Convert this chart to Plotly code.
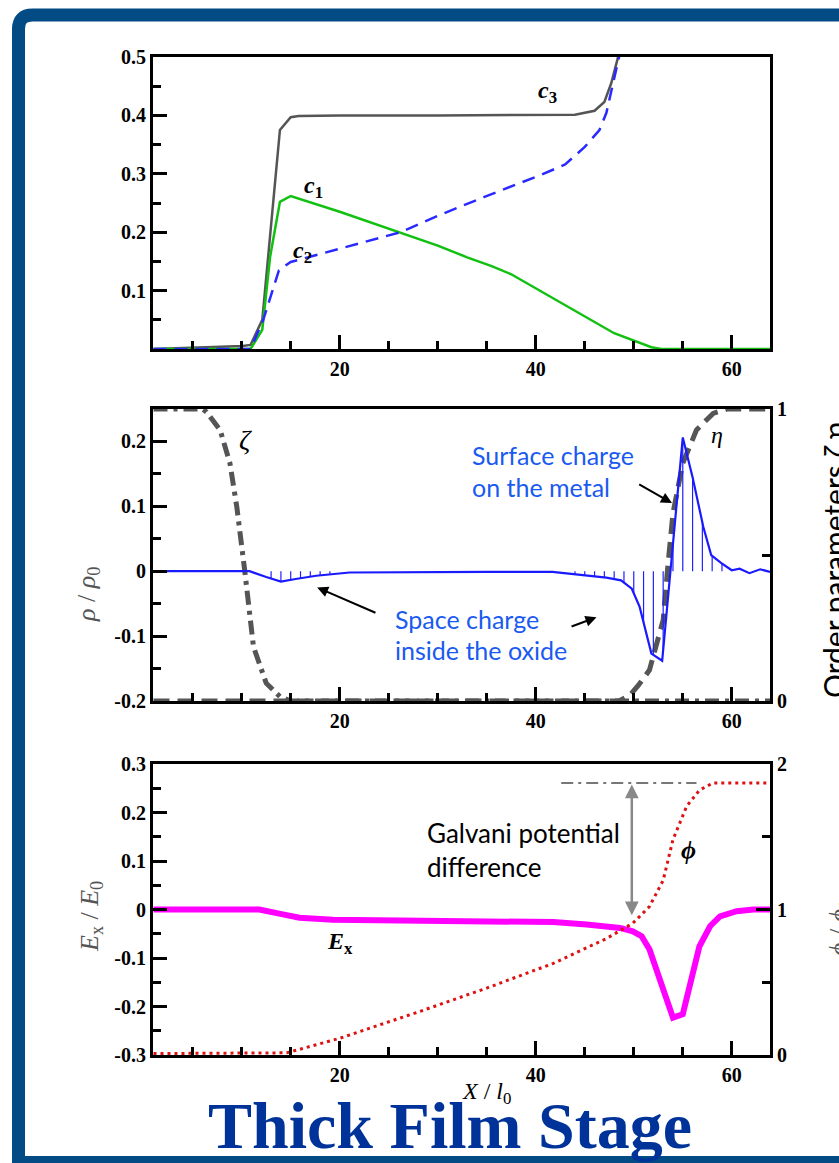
import numpy as np
import plotly.graph_objects as go

W, H = 839, 1163

# ---------------- Panel 1: concentrations ----------------
c3_x = [1, 10.1, 10.9, 12.1, 13.9, 15.0, 15.8, 20, 30, 40, 44.0, 46.0, 47.0, 47.7, 48.0, 48.4, 49.0]
c3_y = [0, 0.005, 0.007, 0.05, 0.375, 0.397, 0.399, 0.4, 0.4, 0.4, 0.401, 0.408, 0.423, 0.455, 0.473, 0.5, 0.56]

c1_x = [1, 10.9, 12.1, 12.9, 13.9, 15.0, 20, 24.2, 26.2, 30, 33.0, 35.5, 37.5, 39.8, 43.9, 48.0, 51.8, 52.8, 64]
c1_y = [0, 0, 0.033, 0.158, 0.252, 0.262, 0.235, 0.211, 0.2, 0.177, 0.157, 0.142, 0.128, 0.106, 0.067, 0.027, 0.003, 0, 0]

c2_x = [1, 10.9, 12.2, 13.1, 13.8, 15.0, 17.0, 20, 24.2, 26.2, 30, 34.7, 40.5, 43.0, 45.0, 46.5, 47.2, 47.7, 48.2, 48.5, 49.0]
c2_y = [0, 0, 0.05, 0.096, 0.135, 0.149, 0.158, 0.171, 0.19, 0.2, 0.228, 0.26, 0.298, 0.316, 0.346, 0.375, 0.404, 0.443, 0.478, 0.5, 0.56]

# ---------------- Panel 2: charge density and order parameters ----------------
rho_x = [1, 10.8, 12.5, 14.0, 15.5, 17.6, 21.0, 28, 35, 41.7, 45.2, 47.2, 48.7, 49.8, 50.6,
         51.8, 52.9, 55.0, 56.0, 57.1, 57.9, 58.9, 60.0, 60.8, 61.8, 62.9, 63.9]
rho_y = [0, 0, -0.009, -0.016, -0.012, -0.007, -0.002, -0.001, -0.001, -0.001, -0.006, -0.01, -0.014, -0.027, -0.055,
         -0.127, -0.138, 0.206, 0.145, 0.068, 0.025, 0.013, 0.0015, 0.004, -0.003, 0.003, -0.001]

zeta_x = [1, 6.0, 6.4, 7.8, 8.8, 9.5, 10.3, 10.8, 11.2, 12.5, 13.9, 15.0, 64]
zeta_y = [1, 1, 0.99, 0.928, 0.814, 0.665, 0.449, 0.30, 0.186, 0.061, 0.015, 0, 0]

eta_x = [1, 48.5, 49.6, 50.5, 51.6, 53.0, 53.5, 54.0, 55.0, 56.4, 58.1, 59.5, 64]
eta_y = [0, 0, 0.02, 0.055, 0.106, 0.277, 0.47, 0.643, 0.814, 0.928, 0.985, 1, 1]

# grid nodes where the space charge is hatched
hatch_nodes = list(range(13, 20)) + list(range(44, 60))

# ---------------- Panel 3: field and potential ----------------
ex_x = [1, 11.8, 14.2, 15.9, 19.3, 28.2, 41.8, 45.2, 48.6, 49.9, 50.8, 51.6, 52.7, 53.5, 54.0,
        55.0, 55.7, 56.7, 57.8, 58.8, 60.5, 62.2, 63.9]
ex_y = [0, 0, -0.010, -0.017, -0.021, -0.024, -0.026, -0.031, -0.038, -0.045, -0.055, -0.082, -0.144, -0.192, -0.223,
        -0.216, -0.158, -0.076, -0.034, -0.014, -0.0035, 0, 0]

phi_x = [1, 13, 14.6, 20.0, 28.2, 35.0, 41.8, 47.2, 49.9, 51.6, 53.0, 54.0, 55.4, 56.7, 58.1, 60, 62.2, 63.9]
phi_y = [0.01, 0.01, 0.015, 0.115, 0.30, 0.46, 0.63, 0.80, 0.905, 1.02, 1.20, 1.48, 1.71, 1.82, 1.87, 1.87, 1.87, 1.87]

# ---------------- tick labels ----------------
p1_ticks = [0.1, 0.2, 0.3, 0.4, 0.5]
p1_text = ["0.1", "0.2", "0.3", "0.4", "0.5"]
p2_ticks = [-0.2, -0.1, 0, 0.1, 0.2]
p2_text = ["-0.2", "-0.1", "0", "0.1", "0.2"]
p2r_ticks = [0, 1]
p2r_text = ["0", "1"]
p3_ticks = [-0.3, -0.2, -0.1, 0, 0.1, 0.2, 0.3]
p3_text = ["-0.3", "-0.2", "-0.1", "0", "0.1", "0.2", "0.3"]
p3r_ticks = [0, 1, 2]
p3r_text = ["0", "1", "2"]

SERIF = "Liberation Serif"
SANS = "Lato"
BLUE_TXT = "#1a5af0"


def px(x):
    return x / W


def py(y):
    return 1 - y / H


XDOM = [px(153), px(770)]
XR = [0.95, 63.9]

fig = go.Figure()

# panel 1
fig.add_trace(go.Scatter(x=c3_x, y=c3_y, mode="lines", line=dict(color="#555555", width=2.5),
                         xaxis="x", yaxis="y", name="c3"))
fig.add_trace(go.Scatter(x=c1_x, y=c1_y, mode="lines", line=dict(color="#11c011", width=2.5),
                         xaxis="x", yaxis="y", name="c1"))
fig.add_trace(go.Scatter(x=c2_x, y=c2_y, mode="lines", line=dict(color="#2a2aff", width=2.5, dash="13px,8px"),
                         xaxis="x", yaxis="y", name="c2"))

# panel 2: order parameters (base axis y2, right side)
fig.add_trace(go.Scatter(x=zeta_x, y=zeta_y, mode="lines",
                         line=dict(color="#555555", width=5, dash="14px,6px,4px,6px"),
                         xaxis="x2", yaxis="y2", name="zeta"))
fig.add_trace(go.Scatter(x=eta_x, y=eta_y, mode="lines",
                         line=dict(color="#555555", width=5, dash="16px,8px"),
                         xaxis="x2", yaxis="y2", name="eta"))

# hatch segments from zero to the charge curve
hx, hy = [], []
for xn in hatch_nodes:
    hx += [xn, xn, None]
    hy += [0, float(np.interp(xn, rho_x, rho_y)), None]
fig.add_trace(go.Scatter(x=hx, y=hy, mode="lines", line=dict(color="#2020ff", width=1.2),
                         xaxis="x2", yaxis="y3", name="hatch"))
fig.add_trace(go.Scatter(x=rho_x, y=rho_y, mode="lines", line=dict(color="#1a1aff", width=2.2),
                         xaxis="x2", yaxis="y3", name="rho"))

# panel 3
fig.add_trace(go.Scatter(x=ex_x, y=ex_y, mode="lines", line=dict(color="#ff00ff", width=6),
                         xaxis="x3", yaxis="y4", name="Ex"))
phi_top = max(phi_y)
fig.add_trace(go.Scatter(x=[42.6, 56.4], y=[phi_top, phi_top], mode="lines",
                         line=dict(color="#777777", width=2, dash="12px,5px,3px,5px"),
                         xaxis="x3", yaxis="y5", name="galvani"))
fig.add_trace(go.Scatter(x=phi_x, y=phi_y, mode="lines",
                         line=dict(color="#dd1111", width=3, dash="3px,4px"),
                         xaxis="x3", yaxis="y5", name="phi"))

tickfont = dict(family=SERIF, size=20, color="black", weight="bold")
common_axis = dict(showline=True, linewidth=3, linecolor="black", ticks="inside", ticklen=14,
                   tickwidth=3, tickcolor="black", tickfont=tickfont, showgrid=False, zeroline=False,
                   automargin=False)


def minor(dt):
    return dict(ticks="inside", ticklen=8, tickwidth=3, tickcolor="black", tickmode="linear",
                tick0=0, dtick=dt, showgrid=False)


def xaxis(anchor):
    return dict(common_axis, domain=XDOM, range=XR, anchor=anchor, mirror=True,
                tickmode="linear", tick0=0, dtick=20, minor=minor(5))


P1 = [py(349), py(57)]
P2 = [py(701), py(409)]
P3 = [py(1055), py(764)]

fig.update_layout(
    template="none",
    width=W, height=H, autosize=False,
    margin=dict(l=0, r=0, t=0, b=0, pad=0, autoexpand=False),
    paper_bgcolor="white", plot_bgcolor="white", showlegend=False,
    xaxis=xaxis("y"),
    xaxis2=xaxis("y2"),
    xaxis3=xaxis("y4"),
    yaxis=dict(common_axis, domain=P1, range=[0, 0.5], anchor="x", mirror=True,
               tickmode="array", tickvals=p1_ticks, ticktext=p1_text, minor=minor(0.05)),
    yaxis2=dict(common_axis, domain=P2, range=[0, 1], anchor="x2", side="right",
                tickmode="array", tickvals=p2r_ticks, ticktext=p2r_text, minor=minor(0.5)),
    yaxis3=dict(common_axis, range=[-0.2, 0.25], anchor="x2", overlaying="y2", side="left",
                tickmode="array", tickvals=p2_ticks, ticktext=p2_text, minor=minor(0.05)),
    yaxis4=dict(common_axis, domain=P3, range=[-0.3, 0.3], anchor="x3", side="left",
                tickmode="array", tickvals=p3_ticks, ticktext=p3_text, minor=minor(0.05)),
    yaxis5=dict(common_axis, range=[0, 2], anchor="x3", overlaying="y4", side="right",
                tickmode="array", tickvals=p3r_ticks, ticktext=p3r_text, minor=minor(0.5)),
)

ann = []


def label(text, x, y, size, family=SERIF, color="black", angle=0, xanchor="center", **kw):
    ann.append(dict(text=text, x=px(x), y=py(y), xref="paper", yref="paper", showarrow=False,
                    font=dict(family=family, size=size, color=color, **kw), textangle=angle,
                    xanchor=xanchor, yanchor="middle"))


# curve labels
label("<b><i>c</i><sub>3</sub></b>", 547, 92, 24)
label("<b><i>c</i><sub>1</sub></b>", 313, 187, 24)
label("<b><i>c</i><sub>2</sub></b>", 302, 252, 24)
label("<i>ζ</i>", 245, 440, 28)
label("<i>η</i>", 717, 435, 24)
label("<b><i>ϕ</i></b>", 688, 850, 26)
label("<b><i>E</i><sub>x</sub></b>", 340, 943, 24)

# axis titles
label("<i>ρ</i> / <i>ρ</i><sub>0</sub>", 88, 595, 26, color="#555555", angle=-90)
label("<i>E</i><sub>x</sub> / <i>E</i><sub>0</sub>", 91, 917, 26, color="#555555", angle=-90)
label("<i>ϕ</i> / <i>ϕ</i><sub>0</sub>", 840, 928, 26, color="#555555", angle=-90)
label("Order parameters ζ,η", 834, 560, 30, family=SANS, angle=-90)
label("<i>X</i> / <i>l</i><sub>0</sub>", 486, 1093, 24)

# callouts
label("Surface charge", 470, 455, 25, family=SANS, color=BLUE_TXT, xanchor="left")
label("on the metal", 470, 487, 25, family=SANS, color=BLUE_TXT, xanchor="left")
label("Space charge", 393, 619, 25, family=SANS, color=BLUE_TXT, xanchor="left")
label("inside the oxide", 393, 650, 25, family=SANS, color=BLUE_TXT, xanchor="left")
label("Galvani potential", 425, 833, 26, family=SANS, xanchor="left")
label("difference", 425, 867, 26, family=SANS, xanchor="left")

# stage title
label("<b>Thick Film Stage</b>", 450, 1125, 66, color="#003399")


def arrow(x, y, ax, ay, xref, yref, color="black", width=2, side="end", head=2):
    ann.append(dict(x=x, y=y, ax=ax, ay=ay, xref=xref, yref=yref, axref=xref, ayref=yref,
                    showarrow=True, arrowhead=head, startarrowhead=head, arrowsize=1.1,
                    arrowwidth=width, arrowcolor=color, arrowside=side, text=""))


arrow(17.7, -0.025, 23.8, -0.065, "x2", "y3")
arrow(46.2, -0.071, 43.5, -0.086, "x2", "y3")
arrow(53.9, 0.105, 50.4, 0.135, "x2", "y3")
arrow(49.8, 0.96, 49.8, phi_top, "x3", "y5", color="#888888", width=2.5, side="end+start")

fig.update_layout(annotations=ann)

# blue frame with a rounded top-left corner
r = 14
fx, fy, fr, fb = 18.5, 15, 850, 1162.5
path = (f"M {px(fr)},{py(fy)} L {px(fx + r)},{py(fy)} "
        f"Q {px(fx)},{py(fy)} {px(fx)},{py(fy + r)} "
        f"L {px(fx)},{py(fb)} L {px(fr)},{py(fb)} Z")
fig.add_shape(type="path", path=path, xref="paper", yref="paper",
              line=dict(color="#034b85", width=13), fillcolor="rgba(0,0,0,0)", layer="above")

# page without the default body margin so the figure fills the window exactly
fig.write_html("out.html",
               post_script="document.body.style.margin='0';document.body.style.overflow='hidden';")
